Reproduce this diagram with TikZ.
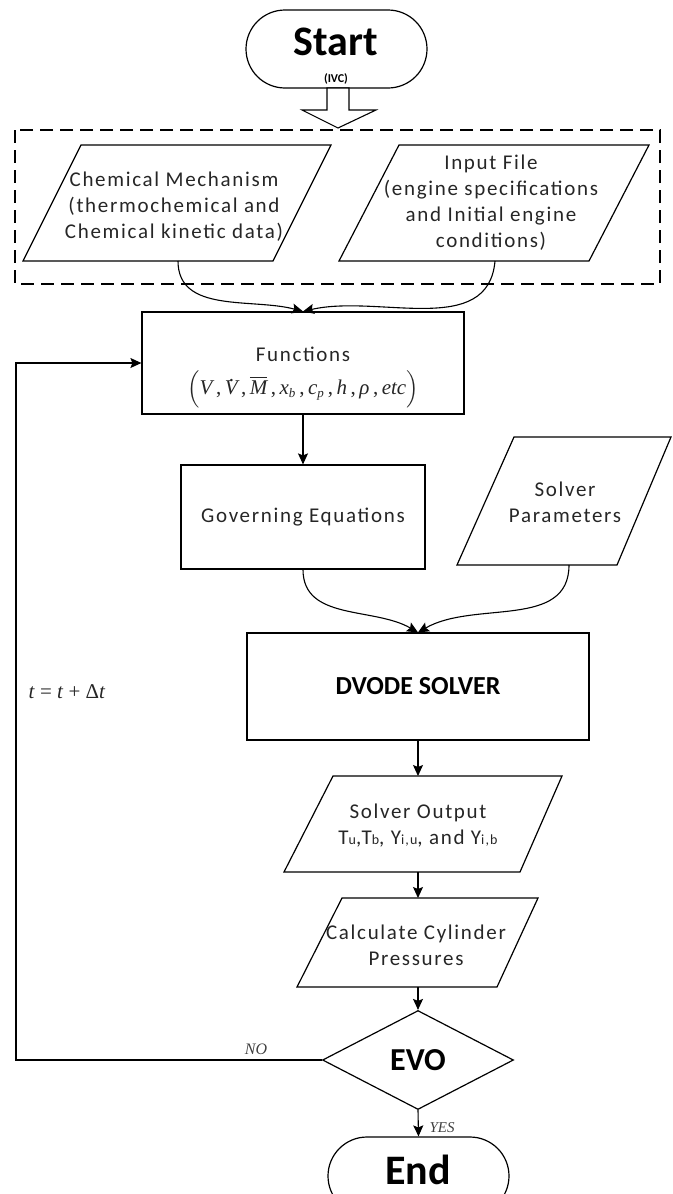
\documentclass[tikz,border=0pt]{standalone}
\usepackage{exscale}
\usepackage{fontspec}
\setmainfont{Carlito}
\newfontfamily\bodyf[LetterSpace=8]{Carlito}
\newfontfamily\tms{Liberation Serif}
\usetikzlibrary{shapes.misc,shapes.geometric,arrows.meta}

\newcommand{\ti}[1]{\hbox{\tms\itshape\fontsize{21}{21}\selectfont #1}}
\newcommand{\tis}[1]{\hbox{\tms\itshape\fontsize{13}{13}\selectfont #1}}
\newcommand{\tcm}{\hbox{\tms\fontsize{21}{21}\selectfont\,,\,}}
\newcommand{\dotV}{\hbox{\ti{V}\llap{\raisebox{13pt}{\tms\fontsize{21}{21}\selectfont .}\kern3.5pt}}}
\newcommand{\smsub}[1]{{\fontsize{14}{14}\selectfont #1}}

\begin{document}
\begin{tikzpicture}[x=1pt,y=1pt,
  line width=1.1pt,
  box/.style={draw, line width=1.2pt, inner sep=0pt},
  body/.style={font=\bodyf\fontsize{21}{26}\selectfont, align=center, text=black!85, inner sep=0pt},
  arr/.style={line width=1.1pt, -{Stealth[length=11pt,width=10pt,inset=2pt]}},
  term/.style={draw, line width=1.2pt, rounded rectangle, minimum width=181pt, minimum height=78pt, inner sep=0pt},
  big/.style={font=\bfseries\fontsize{42}{42}\selectfont, inner sep=0pt},
  tlabel/.style={font=\tms\itshape\fontsize{16}{16}\selectfont, text=black!75, inner sep=0pt},
]
\useasboundingbox (0,0) rectangle (672,-1194);
\clip (0,0) rectangle (672,-1194);

% Start
\node[term] (start) at (336.5,-49) {};
\node[big] (startT) at (336,-42) {Start};
\node[font=\bfseries\fontsize{12}{12}\selectfont, inner sep=0pt] (ivc) at (336,-79) {(IVC)};

% block arrow
\draw[line width=1.1pt, fill=white] (327,-88) -- (349,-88) -- (349,-110) -- (376,-110) -- (338,-128) -- (302,-110) -- (327,-110) -- cycle;

% dashed group box
\draw[line width=1.2pt, dash pattern=on 13pt off 7pt] (15,-130) rectangle (660,-284);

% Chemical mechanism
\draw[box] (81,-145) -- (331,-145) -- (273,-261) -- (23,-261) -- cycle;
\node[body] (chem) at (174,-207) {Chemical Mechanism\\(thermochemical and\\Chemical kinetic data)};
\coordinate (chemOut) at (178,-261);

% Input file
\draw[box] (399,-145) -- (649,-145) -- (589,-261) -- (339,-261) -- cycle;
\node[body] (inp) at (491,-203) {Input File\\(engine specifications\\and Initial engine\\conditions)};
\coordinate (inpOut) at (495,-261);

% Functions
\node[box, minimum width=322pt, minimum height=102pt] (fun) at (303,-363) {};
\node[body] (funT) at (303,-354) {Functions};
\node[inner sep=0pt, text=black!85, font=\fontsize{20}{24}\selectfont] (funF) at (303,-389)
 {$\Big(\ti{V}\tcm\dotV\tcm\overline{\ti{M}}\tcm\ti{x}_{\tis{b}}\tcm\ti{c}_{\tis{p}}\tcm\ti{h}\tcm\ti{ρ}\tcm\ti{etc}\Big)$};
\draw[arr] (chemOut) to[out=-90,in=165] (fun.north);
\draw[arr] (inpOut) to[out=-95,in=13] (fun.north);

% Governing equations
\node[body, box, minimum width=244pt, minimum height=104pt] (gov) at (303,-517) {Governing Equations};
\draw[arr] (fun.south) -- (gov.north);

% Solver parameters
\draw[box] (514,-437) -- (671,-437) -- (617,-565) -- (457,-565) -- cycle;
\node[body] (spar) at (565,-502) {Solver\\Parameters};
\coordinate (sparOut) at (569,-565);

% DVODE
\node[box, minimum width=342pt, minimum height=107pt, font=\bfseries\fontsize{26}{26}\selectfont] (dvode) at (418,-686.5) {DVODE SOLVER};
\draw[arr] (gov.south) to[out=-90,in=150] (dvode.north);
\draw[arr] (sparOut) to[out=-90,in=30] (dvode.north);

% Solver output
\draw[box] (333,-776) -- (562,-776) -- (520,-872) -- (284,-872) -- cycle;
\coordinate (soutIn) at (418,-776);
\coordinate (soutOut) at (418,-872);
\node[body] (sout) at (418,-826) {Solver Output\\T\smsub{u},T\smsub{b}, Y\smsub{i,u}, and Y\smsub{i,b}};
\draw[arr] (dvode.south) -- (soutIn);

% Calculate
\draw[box] (342,-898) -- (538,-898) -- (497,-987) -- (297,-987) -- cycle;
\coordinate (calcIn) at (418,-898);
\coordinate (calcOut) at (418,-987);
\node[body] (calc) at (416,-945) {Calculate Cylinder\\Pressures};
\draw[arr] (soutOut) -- (calcIn);

% EVO
\node[draw, line width=1.2pt, diamond, minimum width=191pt, minimum height=99pt, inner sep=0pt, font=\bfseries\fontsize{32}{32}\selectfont] (evo) at (418,-1060) {EVO};
\draw[arr] (calcOut) -- (evo.north);

% End
\node[term] (endnode) at (418.5,-1176) {};
\node[big] (endT) at (418,-1170) {End};
\draw[arr] (evo.south) -- (endnode.north);
\node[tlabel, font=\tms\itshape\fontsize{15}{15}\selectfont, anchor=west] (yes) at (429,-1128) {YES};

% feedback loop
\coordinate (fbBottom) at (16,-1060);
\draw[arr] (evo.west) -- (fbBottom) |- (fun.west);
\node[tlabel] (no) at (256,-1049) {NO};
\node[inner sep=0pt, font=\tms\fontsize{21}{21}\selectfont, text=black!85] (dt) at (67,-692) {\textit{t} = \textit{t} + Δ\textit{t}};

\end{tikzpicture}
\end{document}
